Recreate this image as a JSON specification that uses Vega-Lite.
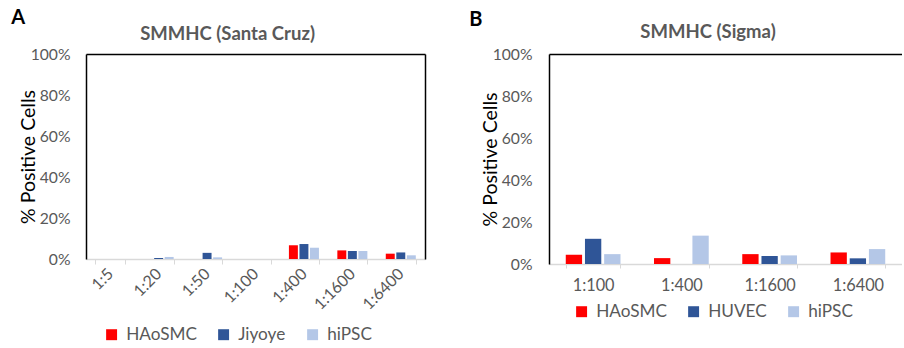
{
  "$schema": "https://vega.github.io/schema/vega-lite/v6.json",
  "padding": {"left": 11, "top": 8, "right": 0, "bottom": 0},
  "datasets": {
    "a": [
      {"dilution": "1:5", "cell": "HAoSMC", "value": 0},
      {"dilution": "1:5", "cell": "Jiyoye", "value": 0},
      {"dilution": "1:5", "cell": "hiPSC", "value": 0},
      {"dilution": "1:20", "cell": "HAoSMC", "value": 0},
      {"dilution": "1:20", "cell": "Jiyoye", "value": 0.5},
      {"dilution": "1:20", "cell": "hiPSC", "value": 1.0},
      {"dilution": "1:50", "cell": "HAoSMC", "value": 0},
      {"dilution": "1:50", "cell": "Jiyoye", "value": 3.0},
      {"dilution": "1:50", "cell": "hiPSC", "value": 0.8},
      {"dilution": "1:100", "cell": "HAoSMC", "value": 0},
      {"dilution": "1:100", "cell": "Jiyoye", "value": 0},
      {"dilution": "1:100", "cell": "hiPSC", "value": 0},
      {"dilution": "1:400", "cell": "HAoSMC", "value": 6.7},
      {"dilution": "1:400", "cell": "Jiyoye", "value": 7.3},
      {"dilution": "1:400", "cell": "hiPSC", "value": 5.5},
      {"dilution": "1:1600", "cell": "HAoSMC", "value": 4.2},
      {"dilution": "1:1600", "cell": "Jiyoye", "value": 3.9},
      {"dilution": "1:1600", "cell": "hiPSC", "value": 3.9},
      {"dilution": "1:6400", "cell": "HAoSMC", "value": 2.6},
      {"dilution": "1:6400", "cell": "Jiyoye", "value": 3.2},
      {"dilution": "1:6400", "cell": "hiPSC", "value": 1.8}
    ],
    "b": [
      {"dilution": "1:100", "cell": "HAoSMC", "value": 4.4},
      {"dilution": "1:100", "cell": "HUVEC", "value": 12.0},
      {"dilution": "1:100", "cell": "hiPSC", "value": 4.7},
      {"dilution": "1:400", "cell": "HAoSMC", "value": 2.8},
      {"dilution": "1:400", "cell": "HUVEC", "value": 0},
      {"dilution": "1:400", "cell": "hiPSC", "value": 13.5},
      {"dilution": "1:1600", "cell": "HAoSMC", "value": 4.7},
      {"dilution": "1:1600", "cell": "HUVEC", "value": 3.8},
      {"dilution": "1:1600", "cell": "hiPSC", "value": 4.1},
      {"dilution": "1:6400", "cell": "HAoSMC", "value": 5.5},
      {"dilution": "1:6400", "cell": "HUVEC", "value": 2.7},
      {"dilution": "1:6400", "cell": "hiPSC", "value": 7.1}
    ]
  },
  "spacing": 44,
  "hconcat": [
    {
      "title": {"text": "A", "anchor": "start", "frame": "bounds", "fontSize": 20, "fontWeight": "bold", "color": "#000000", "dx": -7, "offset": -3},
      "vconcat": [
        {
          "width": 339,
          "height": 205,
          "data": {"name": "a"},
          "title": {"text": "SMMHC (Santa Cruz)", "anchor": "middle", "frame": "bounds", "fontSize": 18.5, "fontWeight": "bold", "color": "#595959", "offset": 2.5, "dx": 6},
          "layer": [
            {
              "mark": {"type": "bar"},
              "encoding": {
                "x": {"field": "dilution", "type": "nominal", "sort": ["1:5", "1:20", "1:50", "1:100", "1:400", "1:1600", "1:6400"],
                  "scale": {"paddingInner": 0.38, "paddingOuter": 0.19},
                  "axis": {"orient": "bottom", "title": null, "labelAngle": -45, "labelAlign": "right", "labelBaseline": "middle", "labelFontSize": 16, "labelColor": "#595959", "labelPadding": 7, "tickBand": "extent", "tickColor": "#D9D9D9", "tickSize": 5, "domainColor": "#D9D9D9", "domainWidth": 1.5}},
                "xOffset": {"field": "cell", "type": "nominal", "sort": ["HAoSMC", "Jiyoye", "hiPSC"], "scale": {"paddingInner": 0.15, "paddingOuter": 0}},
                "y": {"field": "value", "type": "quantitative", "scale": {"domain": [0, 100]},
                  "axis": {"orient": "left", "values": [0, 20, 40, 60, 80, 100], "labelExpr": "datum.value + '%'", "title": "% Positive Cells", "titleFontSize": 19.5, "titleFontWeight": "normal", "titleColor": "#000000", "titlePadding": -8, "labelFontSize": 15.7, "labelColor": "#595959", "labelPadding": 16, "ticks": false, "grid": false, "domainColor": "#000000", "domainWidth": 1.5}},
                "color": {"field": "cell", "type": "nominal", "scale": {"domain": ["HAoSMC", "Jiyoye", "hiPSC"], "range": ["#FF0000", "#2F5597", "#B4C7E7"]},
                  "legend": {"title": null, "orient": "none", "direction": "horizontal", "legendX": 17, "legendY": 272, "symbolType": "square", "symbolSize": 120, "symbolStrokeWidth": 0, "labelFontSize": 17.2, "labelColor": "#595959", "labelOffset": 6, "columnPadding": 18}}
              }
            },
            {
              "mark": {"type": "bar", "opacity": 0},
              "encoding": {
                "x": {"field": "dilution", "type": "nominal", "sort": ["1:5", "1:20", "1:50", "1:100", "1:400", "1:1600", "1:6400"],
                  "axis": {"orient": "top", "title": null, "labels": false, "ticks": false, "domainColor": "#000000", "domainWidth": 1.5}},
                "xOffset": {"field": "cell", "type": "nominal", "sort": ["HAoSMC", "Jiyoye", "hiPSC"]},
                "y": {"field": "value", "type": "quantitative",
                  "axis": {"orient": "right", "title": null, "labels": false, "ticks": false, "grid": false, "domainColor": "#000000", "domainWidth": 1.5}}
              }
            }
          ],
          "resolve": {"axis": {"x": "independent", "y": "independent"}}
        }
      ]
    },
    {
      "title": {"text": "B", "anchor": "start", "frame": "bounds", "fontSize": 20, "fontWeight": "bold", "color": "#000000", "dx": -11, "offset": -7},
      "vconcat": [
        {
          "width": 353,
          "height": 210,
          "data": {"name": "b"},
          "title": {"text": "SMMHC (Sigma)", "anchor": "middle", "frame": "bounds", "fontSize": 18.5, "fontWeight": "bold", "color": "#595959", "offset": 0.5, "dy": -4, "dx": 17},
          "layer": [
            {
              "mark": {"type": "bar"},
              "encoding": {
                "x": {"field": "dilution", "type": "nominal", "sort": ["1:100", "1:400", "1:1600", "1:6400"],
                  "scale": {"paddingInner": 0.38, "paddingOuter": 0.19},
                  "axis": {"orient": "bottom", "title": null, "labelAngle": 0, "labelFontSize": 16.3, "labelColor": "#595959", "labelPadding": 9, "tickBand": "extent", "tickColor": "#D9D9D9", "tickSize": 4, "domainColor": "#D9D9D9", "domainWidth": 1.5}},
                "xOffset": {"field": "cell", "type": "nominal", "sort": ["HAoSMC", "HUVEC", "hiPSC"], "scale": {"paddingInner": 0.15, "paddingOuter": 0}},
                "y": {"field": "value", "type": "quantitative", "scale": {"domain": [0, 100]},
                  "axis": {"orient": "left", "values": [0, 20, 40, 60, 80, 100], "labelExpr": "datum.value + '%'", "title": "% Positive Cells", "titleFontSize": 19.5, "titleFontWeight": "normal", "titleColor": "#000000", "titlePadding": -8, "labelFontSize": 15.7, "labelColor": "#595959", "labelPadding": 17, "ticks": false, "grid": false, "domainColor": "#000000", "domainWidth": 1.5}},
                "color": {"field": "cell", "type": "nominal", "scale": {"domain": ["HAoSMC", "HUVEC", "hiPSC"], "range": ["#FF0000", "#2F5597", "#B4C7E7"]},
                  "legend": {"title": null, "orient": "none", "direction": "horizontal", "legendX": 24, "legendY": 249, "symbolType": "square", "symbolSize": 120, "symbolStrokeWidth": 0, "labelFontSize": 17.2, "labelColor": "#595959", "labelOffset": 6, "columnPadding": 18}}
              }
            },
            {
              "mark": {"type": "bar", "opacity": 0},
              "encoding": {
                "x": {"field": "dilution", "type": "nominal", "sort": ["1:100", "1:400", "1:1600", "1:6400"],
                  "axis": {"orient": "top", "title": null, "labels": false, "ticks": false, "domainColor": "#000000", "domainWidth": 1.5}},
                "xOffset": {"field": "cell", "type": "nominal", "sort": ["HAoSMC", "HUVEC", "hiPSC"]},
                "y": {"field": "value", "type": "quantitative", "axis": null}
              }
            }
          ],
          "resolve": {"axis": {"x": "independent", "y": "independent"}}
        }
      ]
    }
  ],
  "resolve": {"scale": {"color": "independent", "xOffset": "independent", "x": "independent", "y": "independent"}, "legend": {"color": "independent"}},
  "config": {
    "view": {"stroke": null},
    "font": "Lato"
  }
}
